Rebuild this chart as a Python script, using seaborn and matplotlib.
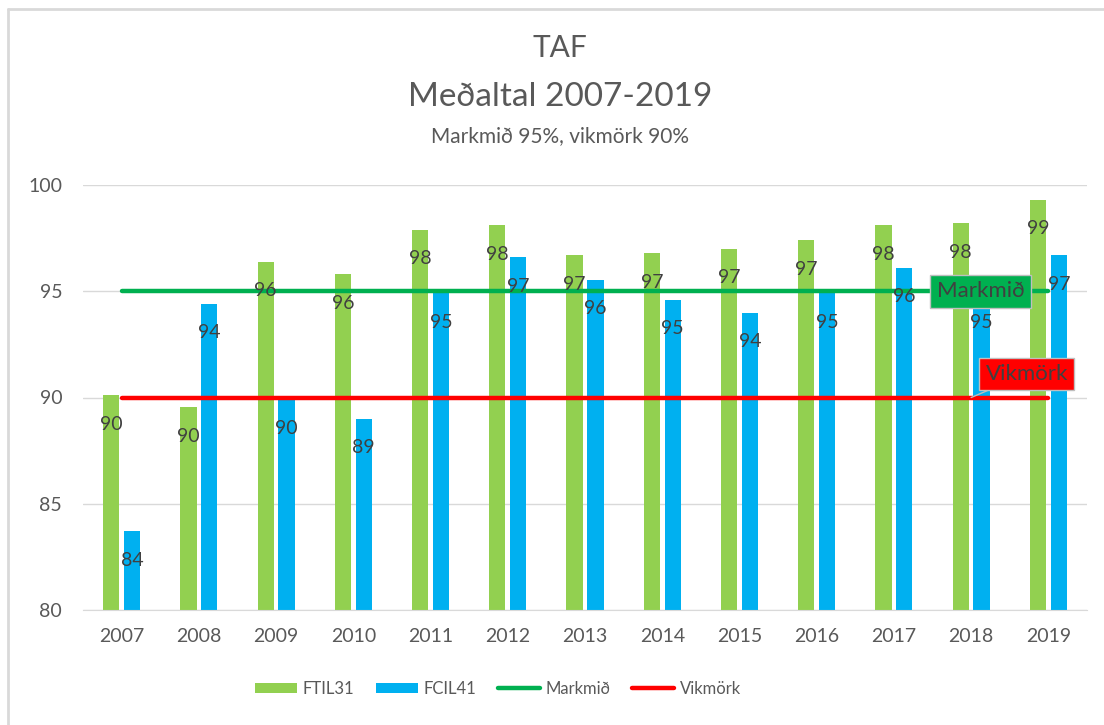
import matplotlib.pyplot as plt
import pandas as pd
import seaborn as sns

# Chart data
years = [2007, 2008, 2009, 2010, 2011, 2012, 2013, 2014, 2015, 2016, 2017, 2018, 2019]
ftil31 = [90.1, 89.55, 96.4, 95.8, 97.9, 98.1, 96.7, 96.8, 97.0, 97.4, 98.1, 98.2, 99.3]
fcil41 = [83.7, 94.4, 89.9, 89.0, 94.9, 96.6, 95.55, 94.6, 94.0, 94.9, 96.1, 94.9, 96.7]
markmid = 95
vikmork = 90

series_names = ["FTIL31", "FCIL41"]
bar_colors = ["#92D050", "#00B0F0"]
GRAY = "#595959"
DARK = "#404040"

sns.set_style("white")
plt.rcParams["font.family"] = ["Lato", "DejaVu Sans"]

df = pd.DataFrame({
    "year": years * 2,
    "series": [series_names[0]] * len(years) + [series_names[1]] * len(years),
    "value": ftil31 + fcil41,
})

fig = plt.figure(figsize=(11.04, 7.25), dpi=100)
ax = fig.add_axes([83 / 1104, 1 - 610 / 725, (1087 - 83) / 1104, (610 - 185) / 725])

sns.barplot(data=df, x="year", y="value", hue="series", palette=bar_colors,
            native_scale=True, width=0.54, gap=0.22, saturation=1,
            linewidth=0, errorbar=None, ax=ax, zorder=1)

# Target and tolerance lines
sns.lineplot(x=years, y=[markmid] * len(years), color="#00B050", lw=3.2,
             label="Markmið", ax=ax, zorder=3, solid_capstyle="round")
sns.lineplot(x=years, y=[vikmork] * len(years), color="#FF0000", lw=3.2,
             label="Vikmörk", ax=ax, zorder=3, solid_capstyle="round")

# Value labels inside the top of each bar
for cont, vals in zip(ax.containers, [ftil31, fcil41]):
    ax.bar_label(cont, labels=[f"{v:.0f}" for v in vals], padding=-27,
                 fontsize=14, color=DARK, zorder=4)

# Line labels
ax.annotate("Markmið", xy=(2018, markmid), xytext=(7, 0), textcoords="offset points",
            ha="center", va="center", fontsize=16, color=DARK, zorder=5,
            bbox=dict(boxstyle="square,pad=0.3", fc="#00B050", ec="#BFBFBF", lw=1))
ax.annotate("Vikmörk", xy=(2018, vikmork), xytext=(40, 17), textcoords="offset points",
            ha="center", va="center", fontsize=16, color=DARK, zorder=5,
            bbox=dict(boxstyle="square,pad=0.28", fc="#FF0000", ec="#BFBFBF", lw=1),
            arrowprops=dict(arrowstyle="-", color="#BFBFBF", lw=1, shrinkA=0, shrinkB=0))

ax.set_xlim(2006.5, 2019.5)
ax.set_ylim(80, 100)
ax.set_xticks(years)
ax.set_xticklabels([str(y) for y in years])
ax.set_yticks([80, 85, 90, 95, 100])
ax.set_xlabel("")
ax.set_ylabel("")
ax.grid(axis="y", color="#D9D9D9", lw=1)
ax.set_axisbelow(True)
for s in ["top", "right", "left"]:
    ax.spines[s].set_visible(False)
ax.spines["bottom"].set_color("#D9D9D9")
ax.tick_params(axis="both", length=0, labelsize=14, colors=GRAY)
ax.tick_params(axis="y", pad=15)
ax.tick_params(axis="x", pad=13)

# Legend at bottom
handles, labels = ax.get_legend_handles_labels()
ax.get_legend().remove()
order = [labels.index(n) for n in ["FTIL31", "FCIL41", "Markmið", "Vikmörk"]]
fig.legend([handles[i] for i in order], [labels[i] for i in order],
           loc="center", bbox_to_anchor=(498 / 1104, 1 - 689 / 725), ncol=4,
           frameon=False, fontsize=12, labelcolor=GRAY, handlelength=2.5,
           handleheight=0.6, columnspacing=1.3, handletextpad=0.35)

# Titles
fig.text(560 / 1104, 1 - 48 / 725, "TAF", ha="center", va="center", fontsize=21.5, color=GRAY)
fig.text(560 / 1104, 1 - 97 / 725, "Meðaltal 2007-2019", ha="center", va="center",
         fontsize=24, color=GRAY)
fig.text(560 / 1104, 1 - 136 / 725, "Markmið 95%, vikmörk 90%", ha="center", va="center",
         fontsize=15, color=GRAY)

# Chart-area border (left and top edges visible)
fig.add_artist(plt.Line2D([8 / 1104, 8 / 1104], [0, 1 - 9 / 725], color="#D9D9D9", lw=2))
fig.add_artist(plt.Line2D([8 / 1104, 1], [1 - 9 / 725, 1 - 9 / 725], color="#D9D9D9", lw=2))

fig.savefig("out.png", dpi=100)
